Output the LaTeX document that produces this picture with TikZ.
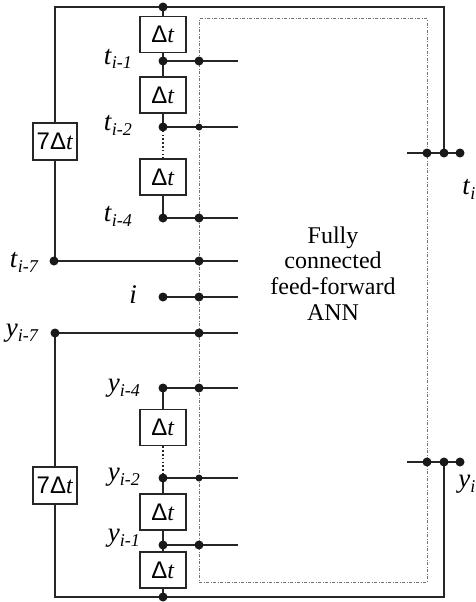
\documentclass[tikz,border=0pt]{standalone}
\usepackage{fontspec}
\setmainfont{Liberation Serif}
\setsansfont{Liberation Sans}
\newcommand\dT{{\sffamily\upshape\char"0394}\textit{t}}
\newcommand\lab[2]{\textit{#1}\raisebox{-5pt}{\fontsize{18}{18}\selectfont\itshape #2}}
\begin{document}
\begin{tikzpicture}[x=1pt,y=-1pt,
  wire/.style={line width=1.8pt, black!85, line cap=rect},
  dotwire/.style={line width=1.8pt, black!85, dash pattern=on 1.6pt off 2.2pt},
  delay/.style={draw, line width=1.6pt, black!85, fill=white, minimum width=46pt,
    minimum height=36pt, inner sep=0pt, text=black, font=\fontsize{24}{24}\selectfont},
  bigdelay/.style={delay, minimum width=44pt, minimum height=37pt},
  jdot/.style={circle, fill=black!90, inner sep=0pt, minimum size=9pt},
  sdot/.style={circle, fill=black!90, inner sep=0pt, minimum size=7pt},
  ann/.style={draw=black!55, line width=1pt,
    dash pattern=on 3pt off 1.5pt on 1pt off 1.5pt, minimum width=228pt,
    minimum height=563pt, inner sep=0pt},
  lbl/.style={inner sep=0pt, font=\fontsize{27}{27}\selectfont},
  annlbl/.style={align=center, inner sep=0pt, font=\fontsize{24}{25.7}\selectfont}]
\useasboundingbox (0,0) rectangle (476,602);

% the network block
\node[ann] (ann) at (313,300.5) {};
\node[annlbl] (annt) at (333,273.5) {Fully\\connected\\feed-forward\\ANN};

% delay elements
\node[delay] (d1) at (163,34.5) {\dT};
\node[delay] (d2) at (163,95) {\dT};
\node[delay] (d3) at (163,177) {\dT};
\node[delay] (d4) at (163,427.5) {\dT};
\node[delay] (d5) at (163,512) {\dT};
\node[delay] (d6) at (163,570) {\dT};
\node[bigdelay] (s1) at (55,141.5) {{\sffamily 7\char"0394}\textit{t}};
\node[bigdelay] (s2) at (55,485.5) {{\sffamily 7\char"0394}\textit{t}};

% junction points
\coordinate (tl) at (55,7);
\coordinate (tr) at (444,7);
\coordinate (top) at (163,7);
\coordinate (p1) at (163,61);   \coordinate (a1) at (199,61);  \coordinate (e1) at (237,61);
\coordinate (p2) at (163,127);  \coordinate (a2) at (199,127); \coordinate (e2) at (237,127);
\coordinate (p4) at (163,218);  \coordinate (a4) at (199,218); \coordinate (e4) at (237,218);
\coordinate (t7) at (55,261);   \coordinate (a7) at (199,261); \coordinate (e7) at (237,261);
\coordinate (pi) at (163,297);  \coordinate (ai) at (199,297); \coordinate (ei) at (237,297);
\coordinate (y7) at (55,333);   \coordinate (b7) at (199,333); \coordinate (f7) at (237,333);
\coordinate (q4) at (163,388);  \coordinate (b4) at (199,388); \coordinate (f4) at (237,388);
\coordinate (q2) at (163,478);  \coordinate (b2) at (199,478); \coordinate (f2) at (237,478);
\coordinate (q1) at (163,545);  \coordinate (b1) at (199,545); \coordinate (f1) at (237,545);
\coordinate (bl) at (55,597);
\coordinate (br) at (444,597);
\coordinate (bot) at (163,597);
% outputs
\coordinate (ot0) at (408,153); \coordinate (ot1) at (427,153);
\coordinate (ot2) at (444,153); \coordinate (ot3) at (460,153);
\coordinate (oy0) at (408,462); \coordinate (oy1) at (427,462);
\coordinate (oy2) at (444,462); \coordinate (oy3) at (460,462);

% feedback of t
\draw[wire] (ot2) -- (tr) -- (tl) -- (s1.north);
\draw[wire] (s1.south) -- (t7);
\draw[wire] (top) -- (d1.north);
\draw[wire] (d1.south) -- (p1) -- (d2.north);
\draw[wire] (d2.south) -- (p2);
\draw[dotwire] (p2) -- (d3.north);
\draw[wire] (d3.south) -- (p4);
\draw[wire] (p1) -- (e1);
\draw[wire] (p2) -- (e2);
\draw[wire] (p4) -- (e4);
\draw[wire] (t7) -- (e7);
\draw[wire] (pi) -- (ei);

% feedback of y
\draw[wire] (oy2) -- (br) -- (bl) -- (s2.south);
\draw[wire] (s2.north) -- (y7);
\draw[wire] (y7) -- (f7);
\draw[wire] (q4) -- (d4.north);
\draw[dotwire] (d4.south) -- (q2);
\draw[wire] (q2) -- (d5.north);
\draw[wire] (d5.south) -- (q1) -- (d6.north);
\draw[wire] (d6.south) -- (bot);
\draw[wire] (q4) -- (f4);
\draw[wire] (q2) -- (f2);
\draw[wire] (q1) -- (f1);

% network outputs
\draw[wire] (ot0) -- (ot3);
\draw[wire] (oy0) -- (oy3);

% junction dots
\foreach \p in {top,p1,a1,p2,p4,a4,a7,pi,ai,b7,q4,b4,q2,q1,b1,bot,ot1,ot2,ot3,oy1,oy2,oy3}
  \node[jdot] at (\p) {};
\foreach \p in {a2,b2} \node[sdot] at (\p) {};
\node[jdot] (t7d) at (54,261) {};
\node[jdot] (y7d) at (55,333) {};

% signal labels
\node[lbl, anchor=base east] (lt1) at (132,64)  {\lab{t}{i-1}};
\node[lbl, anchor=base east] (lt2) at (132,130) {\lab{t}{i-2}};
\node[lbl, anchor=base east] (lt4) at (132,221) {\lab{t}{i-4}};
\node[lbl, anchor=base east] (lt7) at (38,267)  {\lab{t}{i-7}};
\node[lbl, anchor=base east] (li)  at (137,303) {\textit{i}};
\node[lbl, anchor=base east] (ly7) at (38,336)  {\lab{y}{i-7}};
\node[lbl, anchor=base east] (ly4) at (140,391) {\lab{y}{i-4}};
\node[lbl, anchor=base east] (ly2) at (140,480) {\lab{y}{i-2}};
\node[lbl, anchor=base east] (ly1) at (140,541) {\lab{y}{i-1}};
\node[lbl, anchor=base east] (lti) at (475.5,194) {\lab{t}{i}};
\node[lbl, anchor=base east] (lyi) at (475.5,487) {\lab{y}{i}};
\end{tikzpicture}
\end{document}
